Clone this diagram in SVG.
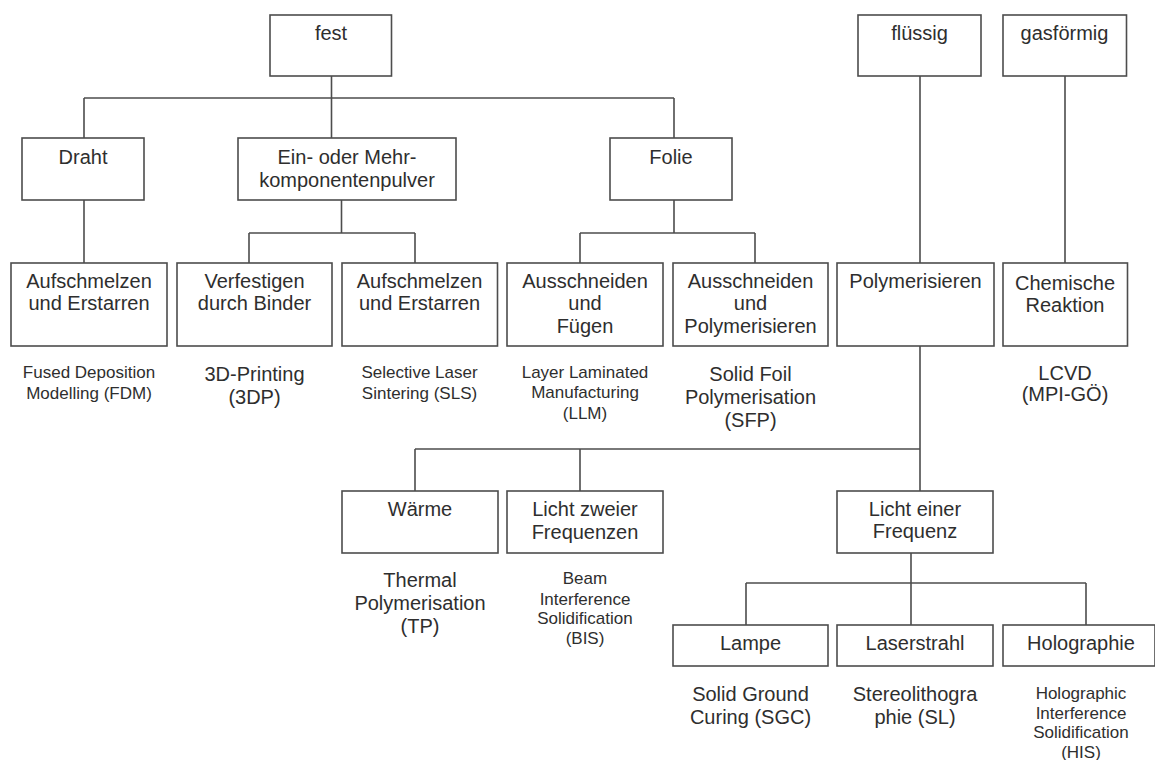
<svg xmlns="http://www.w3.org/2000/svg" width="1155" height="760" viewBox="0 0 1155 760">
<style>
.b{fill:#fff;stroke:#4d4d4d;stroke-width:1.6}
.t{font-family:"Liberation Sans",Arial,sans-serif;font-size:20px;fill:#2e2e2e;text-anchor:middle}
.s{font-family:"Liberation Sans",Arial,sans-serif;font-size:17px;fill:#2e2e2e;text-anchor:middle}
.c{fill:none;stroke:#4d4d4d;stroke-width:1.6}
</style>
<rect width="1155" height="760" fill="#fff"/>
<g id="connectors" class="c">
<path d="M331.5,76V138M84,98H674M84,98V138M674,98V138"/>
<path d="M84,200V263"/>
<path d="M341.5,200V233M249,233H415M249,233V263M415,233V263"/>
<path d="M674,200V233M580,233H755M580,233V263M755,233V263"/>
<path d="M920,76V263M1065,76V263"/>
<path d="M920,346V491M415,449H920M415,449V491M580,449V491"/>
<path d="M911,553V625M746,583H1086M746,583V625M1086,583V625"/>
</g>
<g id="fest"><rect class="b" x="270" y="15" width="121.5" height="61"/><text class="t" x="331" y="40">fest</text></g>
<g id="fluessig"><rect class="b" x="858" y="15" width="123" height="61"/><text class="t" x="919.5" y="40">flüssig</text></g>
<g id="gasfoermig"><rect class="b" x="1003" y="15" width="123.5" height="61"/><text class="t" x="1064.5" y="40">gasförmig</text></g>
<g id="draht"><rect class="b" x="22" y="138" width="122" height="62"/><text class="t" x="83" y="164">Draht</text></g>
<g id="pulver"><rect class="b" x="238" y="138" width="218" height="62"/><text class="t" x="347" y="164">Ein- oder Mehr-</text><text class="t" x="347" y="187">komponentenpulver</text></g>
<g id="folie"><rect class="b" x="610" y="138" width="122" height="62"/><text class="t" x="671" y="164">Folie</text></g>
<g id="fdm"><rect class="b" x="11" y="263" width="156" height="83"/><text class="t" x="89" y="288">Aufschmelzen</text><text class="t" x="89" y="310">und Erstarren</text>
<text class="s" x="89" y="378">Fused Deposition</text><text class="s" x="89" y="399">Modelling (FDM)</text></g>
<g id="3dp"><rect class="b" x="177" y="263" width="155" height="83"/><text class="t" x="254.5" y="288">Verfestigen</text><text class="t" x="254.5" y="310">durch Binder</text>
<text class="t" x="254.5" y="381">3D-Printing</text><text class="t" x="254.5" y="404">(3DP)</text></g>
<g id="sls"><rect class="b" x="342" y="263" width="155.5" height="83"/><text class="t" x="419.5" y="288">Aufschmelzen</text><text class="t" x="419.5" y="310">und Erstarren</text>
<text class="s" x="419.5" y="378">Selective Laser</text><text class="s" x="419.5" y="399">Sintering (SLS)</text></g>
<g id="llm"><rect class="b" x="507" y="263" width="156" height="83"/><text class="t" x="585" y="288">Ausschneiden</text><text class="t" x="585" y="310">und</text><text class="t" x="585" y="333">Fügen</text>
<text class="s" x="585" y="378">Layer Laminated</text><text class="s" x="585" y="398">Manufacturing</text><text class="s" x="585" y="419">(LLM)</text></g>
<g id="sfp"><rect class="b" x="673" y="263" width="155" height="83"/><text class="t" x="750.5" y="288">Ausschneiden</text><text class="t" x="750.5" y="310">und</text><text class="t" x="750.5" y="333">Polymerisieren</text>
<text class="t" x="750.5" y="381">Solid Foil</text><text class="t" x="750.5" y="404">Polymerisation</text><text class="t" x="750.5" y="427">(SFP)</text></g>
<g id="polymerisieren"><rect class="b" x="837" y="263" width="157" height="83"/><text class="t" x="915.5" y="288">Polymerisieren</text></g>
<g id="chemisch"><rect class="b" x="1003" y="263" width="124.5" height="83"/><text class="t" x="1065" y="290">Chemische</text><text class="t" x="1065" y="312">Reaktion</text>
<text class="t" x="1065" y="380">LCVD</text><text class="t" x="1065" y="401">(MPI-GÖ)</text></g>
<g id="waerme"><rect class="b" x="342" y="491" width="156" height="62"/><text class="t" x="420" y="516">Wärme</text>
<text class="t" x="420" y="587">Thermal</text><text class="t" x="420" y="610">Polymerisation</text><text class="t" x="420" y="633">(TP)</text></g>
<g id="zweifreq"><rect class="b" x="507" y="491" width="156" height="62"/><text class="t" x="585" y="516">Licht zweier</text><text class="t" x="585" y="539">Frequenzen</text>
<text class="s" x="585" y="584">Beam</text><text class="s" x="585" y="605">Interference</text><text class="s" x="585" y="624">Solidification</text><text class="s" x="585" y="644">(BIS)</text></g>
<g id="einfreq"><rect class="b" x="837" y="491" width="156" height="62"/><text class="t" x="915" y="516">Licht einer</text><text class="t" x="915" y="538">Frequenz</text></g>
<g id="lampe"><rect class="b" x="673" y="625" width="155" height="41"/><text class="t" x="750.5" y="650">Lampe</text>
<text class="t" x="750.5" y="701">Solid Ground</text><text class="t" x="750.5" y="724">Curing (SGC)</text></g>
<g id="laser"><rect class="b" x="837" y="625" width="156" height="41"/><text class="t" x="915" y="650">Laserstrahl</text>
<text class="t" x="915" y="701">Stereolithogra</text><text class="t" x="915" y="724">phie (SL)</text></g>
<g id="holo"><rect class="b" x="1003" y="625" width="152" height="41"/><text class="t" x="1081" y="650">Holographie</text>
<text class="s" x="1081" y="699">Holographic</text><text class="s" x="1081" y="719">Interference</text><text class="s" x="1081" y="738">Solidification</text><text class="s" x="1081" y="758">(HIS)</text></g>
</svg>
